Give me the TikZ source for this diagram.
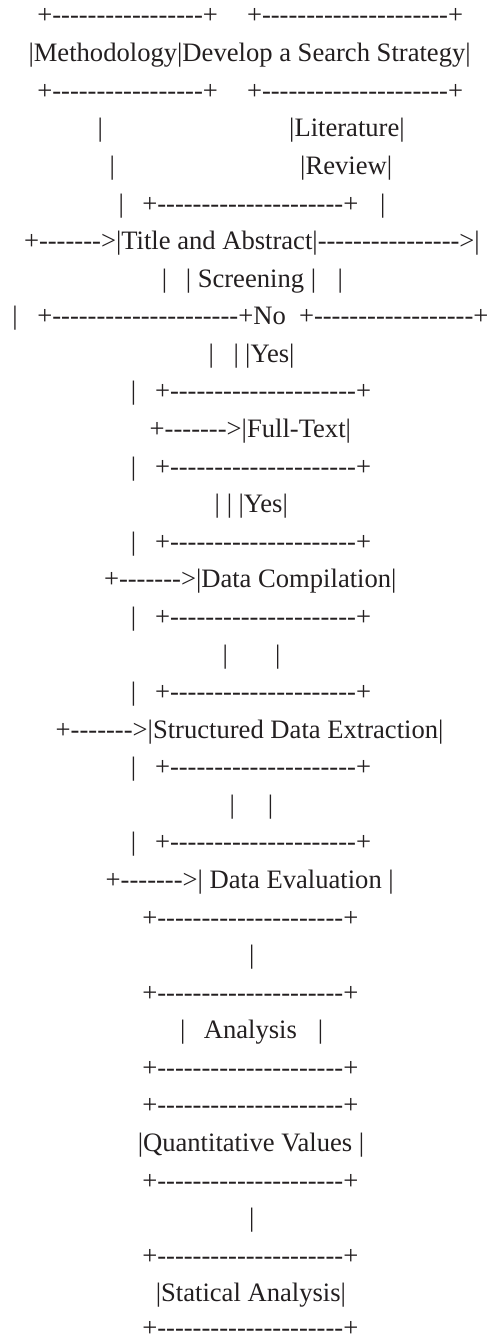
\documentclass[tikz,border=0pt]{standalone}
\usepackage{fontspec}
\setmainfont{Liberation Serif}[Ligatures=TeXOff]
\ExplSyntaxOn
\cs_new:Npn \asciirep #1#2 { \prg_replicate:nn {#1} {#2} }
\ExplSyntaxOff
\newcommand\dsh[1]{\asciirep{#1}{-}}
\newcommand\asciibox{+\dsh{21}+}
\newcommand\arr{+\dsh{7}>}
\definecolor{ink}{RGB}{35,31,32}
\begin{document}
\begin{tikzpicture}[x=1pt,y=1pt,
  t/.style={anchor=base west, inner sep=0pt, outer sep=0pt, text=ink,
            font=\fontsize{26.6pt}{30pt}\selectfont}]
\useasboundingbox[fill=white] (0,0) rectangle (490,-1338);
% line 1-3
\node[t] (l1a) at (37.3,-23.5) {+\dsh{17}+};
\node[t] (l1b) at (247,-23.5) {\asciibox};
\node[t] (l2) at (28.5,-61.7) {|Methodology|Develop a Search Strategy|};
\node[t] (l3a) at (37.3,-99.3) {+\dsh{17}+};
\node[t] (l3b) at (247,-99.3) {\asciibox};
% line 4-6
\node[t] (l4a) at (97.5,-136.9) {|};
\node[t] (l4b) at (289.2,-136.9) {|Literature|};
\node[t] (l5a) at (109.5,-174.4) {|};
\node[t] (l5b) at (300.2,-174.4) {|Review|};
\node[t] (l6a) at (118.5,-212.0) {|};
\node[t] (l6b) at (142.3,-212.0) {\asciibox};
\node[t] (l6c) at (380.2,-212.0) {|};
% line 7-9
\node[t] (l7) at (24,-249.6) {\arr|Title and Abstract|\dsh{16}>|};
\node[t] (l8a) at (161.8,-287.2) {|};
\node[t] (l8b) at (185.8,-287.2) {| Screening |};
\node[t] (l8c) at (337.5,-287.2) {|};
\node[t] (l9a) at (12.5,-324.8) {|};
\node[t] (l9b) at (37.3,-324.8) {\asciibox No};
\node[t] (l9c) at (299,-324.8) {+\dsh{18}+};
% line 10-12
\node[t] (l10a) at (208.5,-362.3) {|};
\node[t] (l10b) at (233.5,-362.3) {|};
\node[t] (l10c) at (245.2,-362.3) {|Yes|};
\node[t] (l11a) at (130.8,-399.9) {|};
\node[t] (l11b) at (155,-399.9) {\asciibox};
\node[t] (l12) at (149.7,-437.5) {\arr|Full-Text|};
% line 13-15
\node[t] (l13a) at (130.8,-475.1) {|};
\node[t] (l13b) at (155,-475.1) {\asciibox};
\node[t] (l14a) at (214.5,-512.7) {|};
\node[t] (l14b) at (226.8,-512.7) {|};
\node[t] (l14c) at (238.5,-512.7) {|Yes|};
\node[t] (l15a) at (130.8,-550.2) {|};
\node[t] (l15b) at (155,-550.2) {\asciibox};
% line 16-19
\node[t] (l16) at (104,-587.8) {\arr|Data Compilation|};
\node[t] (l17a) at (130.8,-625.4) {|};
\node[t] (l17b) at (155,-625.4) {\asciibox};
\node[t] (l18a) at (222.5,-663.0) {|};
\node[t] (l18b) at (275.2,-663.0) {|};
\node[t] (l19a) at (130.8,-700.6) {|};
\node[t] (l19b) at (155,-700.6) {\asciibox};
% line 20-23
\node[t] (l20) at (55.7,-738.1) {\arr|Structured Data Extraction|};
\node[t] (l21a) at (130.8,-775.7) {|};
\node[t] (l21b) at (155,-775.7) {\asciibox};
\node[t] (l22a) at (229.5,-813.3) {|};
\node[t] (l22b) at (267.8,-813.3) {|};
\node[t] (l23a) at (130.8,-850.9) {|};
\node[t] (l23b) at (155,-850.9) {\asciibox};
% line 24-30
\node[t] (l24) at (105.7,-888.5) {\arr| Data Evaluation |};
\node[t] (l25) at (142.3,-926.0) {\asciibox};
\node[t] (l26) at (249.2,-963.6) {|};
\node[t] (l27) at (142.3,-1001.2) {\asciibox};
\node[t] (l28a) at (180.2,-1038.8) {|};
\node[t] (l28b) at (203.8,-1038.8) {Analysis};
\node[t] (l28c) at (317.8,-1038.8) {|};
\node[t] (l29) at (142.3,-1076.4) {\asciibox};
\node[t] (l30) at (142.3,-1113.9) {\asciibox};
% line 31-36
\node[t] (l31) at (137.8,-1151.5) {|Quantitative Values |};
\node[t] (l32) at (142.3,-1189.1) {\asciibox};
\node[t] (l33) at (249.2,-1226.7) {|};
\node[t] (l34) at (142.3,-1264.3) {\asciibox};
\node[t] (l35) at (155.8,-1301.8) {|Statical Analysis|};
\node[t, text depth=0pt] (l36) at (142.3,-1336.0) {\asciibox};
\end{tikzpicture}
\end{document}
